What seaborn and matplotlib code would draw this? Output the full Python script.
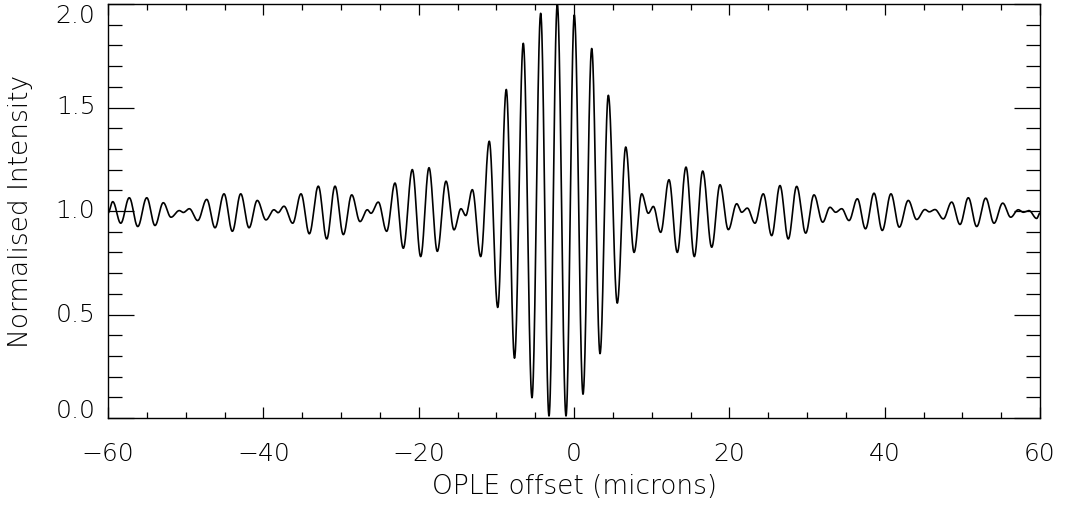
import numpy as np
import pandas as pd
import matplotlib
matplotlib.use("Agg")
import matplotlib.pyplot as plt
from matplotlib import font_manager
import seaborn as sns
from matplotlib.ticker import MultipleLocator

# Fringe extrema of the white-light interferogram: OPLE offset (microns) and normalised intensity
ext_offset = [
    -60.00, -59.39, -58.36, -57.26, -56.17, -55.01, -53.95, -52.88, -51.89, -50.82,
    -50.30, -49.53, -48.45, -47.29, -46.22, -45.06, -43.99, -42.91, -41.84, -40.78,
    -39.66, -38.63, -38.11, -37.34, -36.22, -35.15, -34.08, -32.92, -31.84, -30.77,
    -29.70, -28.62, -27.55, -26.61, -26.14, -25.20, -24.12, -23.05, -21.98, -20.82,
    -19.74, -18.67, -17.60, -16.48, -15.45, -14.55, -13.94, -13.09, -12.01, -10.91,
    -9.82, -8.72, -7.66, -6.53, -5.41, -4.29, -3.22, -2.15, -1.03, 0.04,
    1.16, 2.28, 3.35, 4.42, 5.57, 6.66, 7.73, 8.72, 9.57, 10.21,
    11.16, 12.23, 13.30, 14.42, 15.49, 16.57, 17.73, 18.80, 19.87, 20.95,
    21.59, 22.31, 23.30, 24.37, 25.45, 26.52, 27.59, 28.67, 29.83, 30.90,
    32.02, 32.96, 33.69, 34.47, 35.41, 36.48, 37.53, 38.63, 39.69, 40.81,
    41.88, 43.04, 44.12, 45.19, 45.74, 46.48, 47.55, 48.63, 49.70, 50.77,
    51.85, 53.01, 54.08, 55.20, 56.23, 57.20, 57.85, 58.58, 59.57, 60.00,
]
ext_intensity = [
    0.990, 1.045, 0.941, 1.064, 0.925, 1.064, 0.930, 1.040, 0.970, 1.002,
    0.993, 1.011, 0.954, 1.056, 0.919, 1.083, 0.902, 1.083, 0.919, 1.051,
    0.957, 1.006, 0.992, 1.023, 0.941, 1.083, 0.890, 1.120, 0.865, 1.120,
    0.886, 1.078, 0.949, 1.006, 0.989, 1.043, 0.902, 1.135, 0.820, 1.200,
    0.780, 1.209, 0.805, 1.144, 0.909, 1.011, 0.978, 1.103, 0.780, 1.337,
    0.534, 1.587, 0.289, 1.810, 0.098, 1.955, 0.010, 2.000, 0.010, 1.947,
    0.115, 1.785, 0.311, 1.559, 0.555, 1.309, 0.800, 1.083, 0.989, 1.022,
    0.897, 1.151, 0.800, 1.212, 0.780, 1.193, 0.825, 1.127, 0.910, 1.035,
    0.994, 1.014, 0.941, 1.083, 0.881, 1.123, 0.865, 1.119, 0.893, 1.078,
    0.946, 1.018, 0.994, 1.011, 0.954, 1.059, 0.914, 1.086, 0.906, 1.083,
    0.922, 1.051, 0.959, 1.007, 0.996, 1.007, 0.962, 1.043, 0.935, 1.064,
    0.925, 1.062, 0.941, 1.038, 0.970, 1.006, 0.994, 1.002, 0.964, 0.990,
]

x_ticks = [-60, -40, -20, 0, 20, 40, 60]
y_ticks = [0.0, 0.5, 1.0, 1.5, 2.0]

# Smooth half-cosine segments between successive fringe extrema
xs, ys = [], []
for i in range(len(ext_offset) - 1):
    x0, x1 = ext_offset[i], ext_offset[i + 1]
    y0, y1 = ext_intensity[i], ext_intensity[i + 1]
    t = np.linspace(0.0, 1.0, 40, endpoint=False)
    xs.append(x0 + (x1 - x0) * t)
    ys.append(y0 + (y1 - y0) * (1 - np.cos(np.pi * t)) / 2)
xs.append([ext_offset[-1]])
ys.append([ext_intensity[-1]])
df = pd.DataFrame({"offset": np.concatenate(xs), "intensity": np.concatenate(ys)})

# Pick a thin-stroked sans face if one is installed
family, weight = "DejaVu Sans", "normal"
for fam in ["DejaVu Sans", "Lato", "Open Sans", "Roboto", "Noto Sans", "Inter"]:
    light = [f for f in font_manager.fontManager.ttflist
             if f.name == fam and isinstance(f.weight, int) and f.weight < 400
             and f.style == "normal"]
    if light:
        family = fam
        weight = max(f.weight for f in light)
        break

sns.set_theme(style="ticks")
plt.rcParams["font.family"] = [family, "DejaVu Sans"]
plt.rcParams["font.weight"] = weight
plt.rcParams["text.color"] = "black"
plt.rcParams["axes.labelcolor"] = "black"
plt.rcParams["xtick.color"] = "black"
plt.rcParams["ytick.color"] = "black"
plt.rcParams["axes.unicode_minus"] = True

FS = 18
FS_LABEL = 19

fig = plt.figure(figsize=(10.70, 5.08), dpi=100)
ax = fig.add_axes([108 / 1070, 1 - 418 / 508, (1040 - 108) / 1070, (418 - 4) / 508])

sns.lineplot(data=df, x="offset", y="intensity", ax=ax, color="black",
             linewidth=1.2, sort=False, estimator=None)

ax.set_xlim(-60, 60)
ax.set_ylim(0, 2)
ax.set_xticks(x_ticks)
ax.set_xticklabels([f"{v:d}".replace("-", "\u2212") for v in x_ticks],
                   fontsize=FS, fontweight=weight)
ax.set_yticks(y_ticks)
ax.set_yticklabels([f"{v:.1f}" for v in y_ticks], fontsize=FS, fontweight=weight)
ax.xaxis.set_minor_locator(MultipleLocator(5))
ax.yaxis.set_minor_locator(MultipleLocator(0.1))

ax.tick_params(which="both", direction="in", top=True, right=True,
               color="black", width=0.9, labelcolor="black")
ax.tick_params(axis="x", which="major", length=8, pad=17)
ax.tick_params(axis="x", which="minor", length=4)
ax.tick_params(axis="y", which="major", length=19, pad=9)
ax.tick_params(axis="y", which="minor", length=10)

# End labels on the y axis sit inside the frame
ylabels = ax.get_yticklabels()
for lab in ylabels:
    lab.set_verticalalignment("center")
ylabels[0].set_verticalalignment("baseline")
ylabels[-1].set_verticalalignment("top")

for s in ax.spines.values():
    s.set_color("black")
    s.set_linewidth(1.0)

ax.set_xlabel("OPLE offset (microns)", fontsize=FS_LABEL, fontweight=weight)
ax.set_ylabel("Normalised Intensity", fontsize=FS_LABEL, fontweight=weight)
ax.xaxis.set_label_coords(0.5, -0.136)
ax.yaxis.set_label_coords(-0.080, 0.5)

fig.savefig("out.png", dpi=100, facecolor="white")
